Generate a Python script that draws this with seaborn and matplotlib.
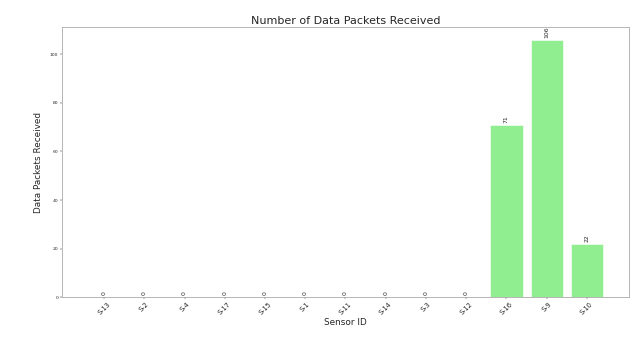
import matplotlib
matplotlib.use("Agg")
import matplotlib.pyplot as plt
import seaborn as sns
import pandas as pd

sensors = ["S-13", "S-2", "S-4", "S-17", "S-15", "S-1", "S-11", "S-14",
           "S-3", "S-12", "S-16", "S-9", "S-10"]
packets = [0, 0, 0, 0, 0, 0, 0, 0, 0, 0, 71, 106, 22]

df = pd.DataFrame({"Sensor ID": sensors, "Data Packets Received": packets})

sns.set_style("ticks")
plt.rcParams['font.family'] = ['DejaVu Sans']

fig, ax = plt.subplots(figsize=(16.025, 8.5), dpi=40)
sns.barplot(data=df, x="Sensor ID", y="Data Packets Received",
            color="lightgreen", saturation=1, width=0.8, ax=ax)

for c in ax.containers:
    ax.bar_label(c, rotation=90, padding=3, fontsize=11)

# same padding as plain plt.bar (5% margins)
n = len(sensors)
pad = 0.05 * (n - 1 + 0.8)
ax.set_xlim(-0.4 - pad, n - 1 + 0.4 + pad)
ax.set_ylim(0, max(packets) * 1.05)

ax.set_title("Number of Data Packets Received", fontsize=20)
ax.set_xlabel("Sensor ID", fontsize=16)
ax.set_ylabel("Data Packets Received", fontsize=16, labelpad=12)
ax.tick_params(axis="x", labelrotation=45, labelsize=12)
ax.tick_params(axis="y", labelsize=8)
for s in ax.spines.values():
    s.set_color("#aaaaaa")
    s.set_linewidth(1.5)

fig.subplots_adjust(left=0.097, right=0.981, top=0.921, bottom=0.126)
fig.savefig("out.png", dpi=40)
